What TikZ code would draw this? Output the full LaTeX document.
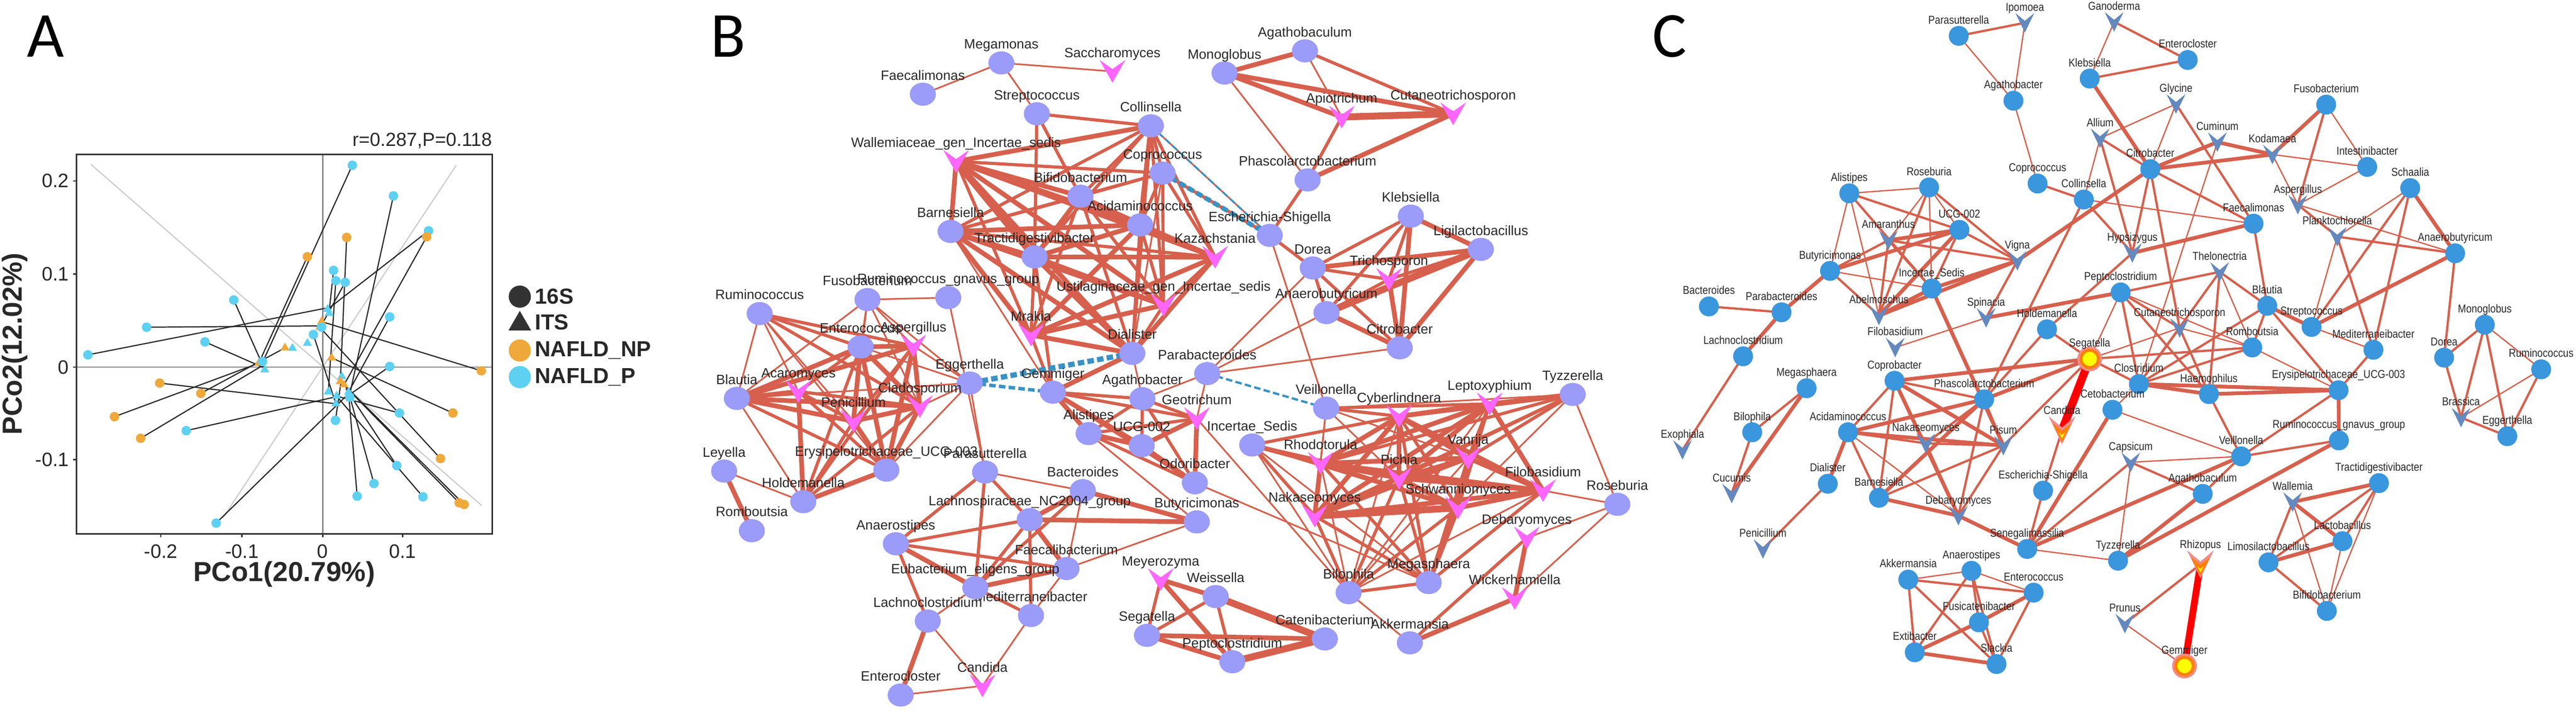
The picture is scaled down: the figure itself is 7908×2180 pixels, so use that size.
\documentclass[tikz,border=0pt]{standalone}
\usepackage{fontspec}
\setmainfont{Liberation Sans}
\newfontfamily\narrowsf[FakeStretch=0.86]{Liberation Sans}
\newfontfamily\panelsf{Carlito}
\usetikzlibrary{shapes.geometric,backgrounds}
\definecolor{edgered}{RGB}{214,96,77}
\definecolor{negblue}{RGB}{58,146,196}
\definecolor{bcirc}{RGB}{155,155,250}
\definecolor{bfung}{RGB}{255,102,255}
\definecolor{ccirc}{RGB}{58,150,221}
\definecolor{cfung}{RGB}{100,137,190}
\definecolor{ringpink}{RGB}{242,140,140}
\definecolor{ringorange}{RGB}{255,127,0}
\definecolor{coreyellow}{RGB}{255,255,0}
\definecolor{hubred}{RGB}{255,0,0}
\definecolor{npgold}{RGB}{239,168,58}
\definecolor{pcyan}{RGB}{94,208,242}
\definecolor{labgray}{RGB}{40,40,40}
\definecolor{darkpt}{RGB}{51,51,51}
% chevron (arrow head pointing down) inside a path picture
\newcommand\vchev[4]{\fill[#1] ([shift={(-#2 cm,{(#3+(#4))*1cm})}]path picture bounding box.center) -- ([shift={(0cm,{(0.2*#3+(#4))*1cm})}]path picture bounding box.center) -- ([shift={(#2 cm,{(#3+(#4))*1cm})}]path picture bounding box.center) -- ([shift={(0cm,{((#4)-#3)*1cm})}]path picture bounding box.center) -- cycle;}
\begin{document}
\begin{tikzpicture}[x=0.01cm,y=-0.01cm,label distance=-0.02cm,
  blab/.style={font=\fontsize{11.8}{13}\selectfont,text=labgray,inner sep=0pt,text depth=2.4pt},
  clab/.style={font=\narrowsf\fontsize{10}{12}\selectfont,text=labgray,inner sep=0pt,text depth=2pt},
  bac/.style={ellipse,fill=bcirc,inner sep=0pt,minimum width=0.8cm,minimum height=0.71cm,label={[blab]above:#1}},
  bfun/.style={rectangle,inner sep=0pt,minimum width=0.79cm,minimum height=0.7cm,path picture={\vchev{bfung}{0.395}{0.35}{0}},label={[blab]above:#1}},
  cbac/.style={circle,fill=ccirc,inner sep=0pt,minimum size=0.61cm,label={[clab]above:#1}},
  cfun/.style={rectangle,inner sep=0pt,minimum width=0.58cm,minimum height=0.6cm,path picture={\vchev{cfung}{0.29}{0.3}{0}},label={[clab]above:#1}},
  hubc/.style={circle,inner sep=0pt,minimum size=0.53cm,fill=coreyellow,draw=ringorange,line width=0.09cm,preaction={draw=ringpink,line width=0.23cm},label={[clab]above:#1}},
  hubt/.style={rectangle,inner sep=0pt,minimum width=0.82cm,minimum height=0.86cm,path picture={\vchev{ringpink}{0.41}{0.43}{0}\vchev{ringorange}{0.29}{0.29}{-0.07}\vchev{coreyellow}{0.09}{0.09}{-0.16}},label={[clab]above:#1}},
  bedge/.style={draw=edgered},
  negedge/.style={draw=negblue,dash pattern=on 0.2cm off 0.1cm},
  ptP/.style={circle,fill=pcyan,inner sep=0,minimum size=0.29cm},
  ptNP/.style={circle,fill=npgold,inner sep=0,minimum size=0.29cm},
  triP/.style={regular polygon,regular polygon sides=3,fill=pcyan,inner sep=0,minimum size=0.32cm},
  triNP/.style={regular polygon,regular polygon sides=3,fill=npgold,inner sep=0,minimum size=0.32cm},
  procline/.style={draw=black!85,line width=1pt},
  ticklab/.style={font=\fontsize{17}{19}\selectfont,text=labgray,inner sep=0pt},
  panel/.style={font=\panelsf\fontsize{56}{60}\selectfont,inner sep=0pt}]
\path[use as bounding box] (0,0) rectangle (7908,2180);
\node[panel] at (140,112) {A};
\node[panel] at (2235,112) {B};
\node[panel] at (5125,112) {C};

% ---------------- A: procrustes plot
\begin{scope}[shift={(0,300)},xscale=1.148,yscale=1.02]
\draw[black!20,line width=1pt] (243,200) -- (1288,1226);
\draw[black!20,line width=1pt] (595,1265) -- (1220,203);
\draw[black!45,line width=1pt] (863,170) -- (863,1312);
\draw[black!45,line width=1pt] (205,810) -- (1316,810);
\foreach \ax/\ay/\bx/\by in {942/203/702/796, 1052/295/935/893, 1146/400/876/636, 1141/418/920/863, 927/420/910/853, 822/478/692/798, 892/519/880/645, 898/550/878/884, 923/555/860/683, 625/608/708/818, 1042/659/932/885, 392/690/860/686, 548/734/706/812, 838/712/898/920, 235/773/870/633, 1042/808/932/895, 1068/948/900/897, 897/970/914/838, 498/1001/895/900, 1061/1106/925/875, 1000/1160/937/905, 955/1198/932/885, 1131/1200/900/897, 578/1279/932/890, 1287/821/860/673, 427/858/898/920, 537/889/762/752, 306/959/700/795, 376/1024/710/800, 1211/948/887/782, 1178/1085/855/690, 1228/1218/910/853, 1241/1223/920/863}
  \draw[procline] (\ax,\ay) -- (\bx,\by);
\foreach \px/\py in {876/636, 880/648, 782/753, 822/738, 708/818, 914/838, 878/884, 900/897, 932/885, 937/905, 898/920, 935/893}
  \node[triP] at (\px,\py) {};
\foreach \px/\py in {860/673, 855/690, 762/752, 887/782, 910/853, 920/863, 692/798}
  \node[triNP] at (\px,\py) {};
\foreach \px/\py in {942/203, 1052/295, 1146/400, 892/519, 898/550, 923/555, 625/608, 1042/659, 392/690, 548/734, 838/712, 860/690, 235/773, 702/793, 1042/808, 1068/948, 897/970, 498/1001, 1061/1106, 1000/1160, 955/1198, 1131/1200, 578/1279, 935/900}
  \node[ptP] at (\px,\py) {};
\foreach \px/\py in {927/420, 822/478, 1141/418, 1287/821, 427/858, 537/889, 306/959, 376/1024, 1211/948, 1178/1085, 1228/1218, 1241/1223}
  \node[ptNP] at (\px,\py) {};
\draw[darkpt,line width=1.4pt] (205,170) rectangle (1316,1312);
\foreach \v/\t in {0.2/250, 0.1/530, 0/810, -0.1/1088} {
  \draw[darkpt,line width=1.2pt] (195,\t) -- (205,\t);
  \node[ticklab,anchor=east] at (185,\t) {\v};}
\foreach \v/\t in {-0.2/430, -0.1/647, 0/863, 0.1/1077} {
  \draw[darkpt,line width=1.2pt] (\t,1312) -- (\t,1322);
  \node[ticklab,anchor=north] at (\t,1343) {\v};}
\node[font=\fontsize{16.5}{18}\selectfont,text=labgray,anchor=east,inner sep=0] at (1316,130) {r=0.287,P=0.118};
\node[font=\bfseries\fontsize{24}{28}\selectfont,text=labgray] at (760,1432) {PCo1(20.79\%)};
\node[font=\bfseries\fontsize{24}{28}\selectfont,text=labgray,rotate=90] at (40,740) {PCo2(12.02\%)};
\node[circle,fill=darkpt,inner sep=0,minimum size=0.68cm] at (1390,598) {};
\node[regular polygon,regular polygon sides=3,fill=darkpt,inner sep=0,minimum size=0.8cm] at (1390,680) {};
\node[circle,fill=npgold,inner sep=0,minimum size=0.68cm] at (1390,760) {};
\node[circle,fill=pcyan,inner sep=0,minimum size=0.68cm] at (1390,840) {};
\foreach \t/\yy in {16S/598, ITS/675, NAFLD\_NP/760, NAFLD\_P/840}
  \node[font=\bfseries\fontsize{19}{21}\selectfont,text=labgray,anchor=west,inner sep=0] at (1430,\yy) {\t};
\end{scope}

% ---------------- B: network
\node[bac=Megamonas] (bMega) at (3074,193) {};
\node[bac=Faecalimonas] (bFaeca) at (2833,289) {};
\node[bfun=Saccharomyces] (bSacch) at (3415,219) {};
\node[bac=Monoglobus] (bMono) at (3759,224) {};
\node[bac=Agathobaculum] (bAgatb) at (4006,156) {};
\node[bfun=Apiotrichum] (bApio) at (4119,359) {};
\node[bfun=Cutaneotrichosporon] (bCuta) at (4461,349) {};
\node[bac=Streptococcus] (bStrep) at (3183,349) {};
\node[bac=Collinsella] (bColl) at (3533,386) {};
\node[bfun=Wallemiaceae\_gen\_Incertae\_sedis] (bWall) at (2935,495) {};
\node[bac=Coprococcus] (bCopro) at (3569,531) {};
\node[bac=Phascolarctobacterium] (bPhas) at (4014,552) {};
\node[bac=Bifidobacterium] (bBifi) at (3317,602) {};
\node[bac=Klebsiella] (bKleb) at (4331,663) {};
\node[bac=Barnesiella] (bBarn) at (2918,710) {};
\node[bac=Acidaminococcus] (bAcid) at (3500,690) {};
\node[bac=Escherichia-Shigella] (bEsch) at (3898,722) {};
\node[bac=Ligilactobacillus] (bLigi) at (4546,765) {};
\node[bac=Tractidigestivibacter] (bTract) at (3176,788) {};
\node[bfun=Kazachstania] (bKaz) at (3730,789) {};
\node[bac=Dorea] (bDorea) at (4030,822) {};
\node[bfun=Trichosporon] (bTrich) at (4264,857) {};
\node[bac=Fusobacterium] (bFuso) at (2663,919) {};
\node[bac=Ruminococcus\_gnavus\_group] (bGnav) at (2911,913) {};
\node[bfun=Ustilaginaceae\_gen\_Incertae\_sedis] (bUstil) at (3572,936) {};
\node[bac=Anaerobutyricum] (bAnaerob) at (4072,959) {};
\node[bac=Ruminococcus] (bRumi) at (2332,962) {};
\node[bfun=Mrakia] (bMrak) at (3165,1028) {};
\node[bac=Enterococcus] (bEntc) at (2642,1064) {};
\node[bfun=Aspergillus] (bAsper) at (2804,1061) {};
\node[bac=Citrobacter] (bCitro) at (4297,1067) {};
\node[bac=Dialister] (bDial) at (3476,1084) {};
\node[bac=Parabacteroides] (bPara) at (3706,1146) {};
\node[bac=Eggerthella] (bEgg) at (2977,1175) {};
\node[bfun=Acaromyces] (bAcaro) at (2451,1201) {};
\node[bac=Gemmiger] (bGemm) at (3232,1203) {};
\node[bac=Blautia] (bBlau) at (2262,1222) {};
\node[bac=Agathobacter] (bAgtr) at (3507,1223) {};
\node[bfun=Cladosporium] (bClad) at (2824,1247) {};
\node[bac=Veillonella] (bVeil) at (4071,1252) {};
\node[bfun=Cyberlindnera] (bCyber) at (4295,1277) {};
\node[bfun=Leptoxyphium] (bLepto) at (4573,1239) {};
\node[bac=Tyzzerella] (bTyzz) at (4828,1210) {};
\node[bfun=Geotrichum] (bGeo) at (3674,1284) {};
\node[bfun=Penicillium] (bPeni) at (2620,1292) {};
\node[bac=Alistipes] (bAlis) at (3342,1330) {};
\node[bac=UCG-002] (bUCG) at (3505,1367) {};
\node[bac=Incertae\_Sedis] (bIncS) at (3844,1365) {};
\node[bfun=Rhodotorula] (bRhodo) at (4054,1421) {};
\node[bfun=Vanrija] (bVanr) at (4507,1405) {};
\node[bac=Erysipelotrichaceae\_UCG-003] (bErys) at (2721,1442) {};
\node[bac=Leyella] (bLeye) at (2223,1445) {};
\node[bac=Parasutterella] (bParas) at (3024,1448) {};
\node[bfun=Pichia] (bPich) at (4295,1467) {};
\node[bac=Odoribacter] (bOdor) at (3668,1481) {};
\node[bac=Bacteroides] (bBact) at (3324,1505) {};
\node[bfun=Filobasidium] (bFilo) at (4737,1505) {};
\node[bac=Holdemanella] (bHold) at (2466,1539) {};
\node[bac=Roseburia] (bRose) at (4965,1547) {};
\node[bfun=Schwanniomyces] (bSchw) at (4476,1558) {};
\node[bfun=Nakaseomyces] (bNaka) at (4036,1583) {};
\node[bac=Lachnospiraceae\_NC2004\_group] (bLach) at (3161,1594) {};
\node[bac=Butyricimonas] (bButy) at (3674,1601) {};
\node[bac=Romboutsia] (bRomb) at (2308,1628) {};
\node[bfun=Debaryomyces] (bDeba) at (4687,1650) {};
\node[bac=Anaerostipes] (bAnst) at (2750,1668) {};
\node[bac=Faecalibacterium] (bFaecb) at (3274,1744) {};
\node[bfun=Meyerozyma] (bMeye) at (3563,1778) {};
\node[bac=Megasphaera] (bMegas) at (4386,1787) {};
\node[bac=Mediterraneibacter] (bMedi) at (3165,1888) {};
\node[bac=Eubacterium\_eligens\_group] (bEubac) at (2994,1803) {};
\node[bac=Bilophila] (bBilo) at (4140,1818) {};
\node[bac=Weissella] (bWeis) at (3732,1830) {};
\node[bfun=Wickerhamiella] (bWick) at (4650,1836) {};
\node[bac=Lachnoclostridium] (bLaccl) at (2848,1905) {};
\node[bac=Segatella] (bSega) at (3521,1949) {};
\node[bac=Catenibacterium] (bCaten) at (4067,1960) {};
\node[bac=Akkermansia] (bAkk) at (4328,1972) {};
\node[bac=Peptoclostridium] (bPepto) at (3783,2030) {};
\node[bfun=Candida] (bCand) at (3016,2104) {};
\node[bac=Enterocloster] (bEntcl) at (2765,2132) {};

% ---------------- C: network
\node[cbac=Parasutterella] (cParas) at (6013,110) {};
\node[cfun=Ipomoea] (cIpom) at (6216,70) {};
\node[cfun=Ganoderma] (cGano) at (6490,67) {};
\node[cbac=Enterocloster] (cEntcl) at (6716,184) {};
\node[cbac=Klebsiella] (cKleb) at (6415,241) {};
\node[cbac=Agathobacter] (cAgtr) at (6181,309) {};
\node[cfun=Glycine] (cGlyc) at (6680,319) {};
\node[cbac=Fusobacterium] (cFuso) at (7141,321) {};
\node[cfun=Allium] (cAlli) at (6447,424) {};
\node[cfun=Cuminum] (cCumi) at (6807,436) {};
\node[cfun=Kodamaea] (cKoda) at (6976,474) {};
\node[cbac=Intestinibacter] (cIntes) at (7267,512) {};
\node[cbac=Citrobacter] (cCitro) at (6601,519) {};
\node[cbac=Coprococcus] (cCopro) at (6255,563) {};
\node[cbac=Roseburia] (cRose) at (5922,575) {};
\node[cbac=Schaalia] (cSchaa) at (7399,577) {};
\node[cbac=Alistipes] (cAlis) at (5677,593) {};
\node[cbac=Collinsella] (cColl) at (6397,612) {};
\node[cfun=Aspergillus] (cAsper) at (7054,628) {};
\node[cbac=Faecalimonas] (cFaeca) at (6918,686) {};
\node[cbac=UCG-002] (cUCG) at (6015,705) {};
\node[cfun=Planktochlorella] (cPlank) at (7175,726) {};
\node[cfun=Amaranthus] (cAmar) at (5797,737) {};
\node[cfun=Hypsizygus] (cHyps) at (6546,776) {};
\node[cbac=Anaerobutyricum] (cAnaerob) at (7537,777) {};
\node[cfun=Vigna] (cVigna) at (6193,800) {};
\node[cbac=Butyricimonas] (cButy) at (5618,831) {};
\node[cfun=Thelonectria] (cThel) at (6814,834) {};
\node[cbac=Incertae\_Sedis] (cIncS) at (5930,885) {};
\node[cbac=Peptoclostridium] (cPepto) at (6510,897) {};
\node[cbac=Bacteroides] (cBact) at (5246,940) {};
\node[cbac=Blautia] (cBlau) at (6960,938) {};
\node[cbac=Parabacteroides] (cParab) at (5469,958) {};
\node[cfun=Abelmoschus] (cAbel) at (5768,968) {};
\node[cfun=Spinacia] (cSpin) at (6097,975) {};
\node[cbac=Monoglobus] (cMono) at (7628,996) {};
\node[cbac=Streptococcus] (cStrep) at (7096,1003) {};
\node[cfun=Cutaneotrichosporon] (cCuta) at (6691,1006) {};
\node[cbac=Holdemanella] (cHold) at (6284,1010) {};
\node[cfun=Filobasidium] (cFilo) at (5818,1066) {};
\node[cbac=Romboutsia] (cRomb) at (6914,1066) {};
\node[cbac=Mediterraneibacter] (cMedi) at (7286,1073) {};
\node[cbac=Lachnoclostridium] (cLaccl) at (5351,1093) {};
\node[cbac=Dorea] (cDorea) at (7503,1097) {};
\node[cbac=Ruminococcus] (cRumi) at (7801,1133) {};
\node[cbac=Coprobacter] (cCoprb) at (5816,1168) {};
\node[cbac=Clostridium] (cClost) at (6566,1178) {};
\node[cbac=Megasphaera] (cMegas) at (5546,1191) {};
\node[cbac=Erysipelotrichaceae\_UCG-003] (cErys) at (7179,1197) {};
\node[cbac=Haemophilus] (cHaem) at (6781,1209) {};
\node[cbac=Phascolarctobacterium] (cPhas) at (6091,1225) {};
\node[cbac=Cetobacterium] (cCeto) at (6485,1257) {};
\node[cfun=Brassica] (cBrass) at (7555,1281) {};
\node[cbac=Bilophila] (cBilo) at (5379,1326) {};
\node[cbac=Acidaminococcus] (cAcid) at (5673,1326) {};
\node[cbac=Eggerthella] (cEgg) at (7697,1338) {};
\node[cbac=Ruminococcus\_gnavus\_group] (cGnav) at (7180,1351) {};
\node[cfun=Nakaseomyces] (cNaka) at (5912,1360) {};
\node[cfun=Pisum] (cPisum) at (6150,1367) {};
\node[cfun=Exophiala] (cExo) at (5165,1380) {};
\node[cbac=Veillonella] (cVeil) at (6880,1400) {};
\node[cfun=Capsicum] (cCaps) at (6541,1418) {};
\node[cbac=Tractidigestivibacter] (cTract) at (7303,1482) {};
\node[cbac=Dialister] (cDial) at (5611,1484) {};
\node[cbac=Escherichia-Shigella] (cEsch) at (6272,1505) {};
\node[cfun=Cucumis] (cCucu) at (5316,1514) {};
\node[cbac=Agathobaculum] (cAgatb) at (6762,1515) {};
\node[cbac=Barnesiella] (cBarn) at (5768,1527) {};
\node[cfun=Wallemia] (cWalle) at (7038,1540) {};
\node[cfun=Debaryomyces] (cDeba) at (6012,1582) {};
\node[cbac=Lactobacillus] (cLacto) at (7191,1660) {};
\node[cfun=Penicillium] (cPeni) at (5412,1684) {};
\node[cbac=Senegalimassilia] (cSene) at (6223,1684) {};
\node[cbac=Tyzzerella] (cTyzz) at (6502,1720) {};
\node[cbac=Limosilactobacillus] (cLimo) at (6964,1725) {};
\node[cbac=Anaerostipes] (cAnst) at (6052,1751) {};
\node[cbac=Akkermansia] (cAkk) at (5858,1778) {};
\node[cbac=Enterococcus] (cEntc) at (6243,1818) {};
\node[cbac=Bifidobacterium] (cBifi) at (7143,1874) {};
\node[cbac=Fusicatenibacter] (cFusi) at (6075,1909) {};
\node[cfun=Prunus] (cPrun) at (6523,1913) {};
\node[cbac=Extibacter] (cExti) at (5878,2001) {};
\node[cbac=Slackia] (cSlack) at (6129,2037) {};
\node[hubc=Segatella] (cSega) at (6415,1101) {};
\node[hubt=Candida] (cCand) at (6330,1320) {};
\node[hubt=Rhizopus] (cRhiz) at (6755,1731) {};
\node[hubc=Gemmiger] (cGemm) at (6706,2043) {};

\begin{scope}[on background layer]
% B edges
\foreach \u/\v/\w in {bFaeca/bMega/1.2, bMega/bSacch/1.2, bMega/bStrep/1.2, bStrep/bColl/2.3, bStrep/bTract/2.3, bStrep/bBifi/2.3,
  bMono/bAgatb/3.4, bMono/bApio/3.4, bMono/bCuta/3.4, bMono/bPhas/1.2, bAgatb/bApio/1.2, bAgatb/bCuta/2.3, bApio/bCuta/5, bApio/bPhas/2.3, bCuta/bPhas/3.4, bPhas/bEsch/2.3,
  bWall/bColl/3.4, bWall/bCopro/2.3, bWall/bBarn/3.4, bWall/bBifi/3.4, bWall/bAcid/3.4, bWall/bTract/5, bWall/bKaz/3.4, bWall/bUstil/3.4, bWall/bMrak/2.3, bWall/bDial/3.4,
  bColl/bBifi/2.3, bColl/bAcid/3.4, bColl/bTract/2.3, bColl/bKaz/2.3, bColl/bUstil/2.3, bColl/bDial/2.3, bColl/bBarn/2.3, bColl/bCopro/2.3,
  bCopro/bBifi/2.3, bCopro/bAcid/2.3, bCopro/bKaz/2.3, bCopro/bUstil/2.3, bCopro/bDial/1.2, bCopro/bBarn/2.3,
  bBifi/bBarn/2.3, bBifi/bAcid/3.4, bBifi/bTract/3.4, bBifi/bKaz/2.3, bBifi/bUstil/2.3, bBifi/bMrak/2.3, bBifi/bDial/2.3,
  bBarn/bAcid/3.4, bBarn/bTract/3.4, bBarn/bKaz/2.3, bBarn/bUstil/3.4, bBarn/bMrak/3.4, bBarn/bDial/3.4,
  bAcid/bTract/3.4, bAcid/bKaz/3.4, bAcid/bUstil/2.3, bAcid/bMrak/3.4, bAcid/bDial/2.3,
  bTract/bKaz/3.4, bTract/bUstil/3.4, bTract/bMrak/2.3, bTract/bDial/3.4, bKaz/bUstil/2.3, bKaz/bMrak/3.4, bKaz/bDial/3.4, bUstil/bMrak/3.4, bUstil/bDial/2.3, bMrak/bDial/3.4,
  bColl/bEsch/1.2, bCopro/bEsch/2.3, bEsch/bDorea/2.3, bEsch/bVeil/1.2,
  bKleb/bLigi/3.4, bKleb/bDorea/2.3, bKleb/bTrich/2.3, bKleb/bAnaerob/2.3, bKleb/bCitro/3.4, bLigi/bDorea/3.4, bLigi/bAnaerob/5, bLigi/bCitro/3.4, bLigi/bTrich/2.3,
  bDorea/bTrich/2.3, bDorea/bAnaerob/2.3, bDorea/bCitro/2.3, bTrich/bAnaerob/2.3, bTrich/bCitro/3.4, bAnaerob/bCitro/3.4, bDorea/bPara/1.2, bAnaerob/bPara/1.2, bCitro/bPara/1.2,
  bFuso/bGnav/1.2, bRumi/bBlau/1.2, bRumi/bEntc/2.3, bRumi/bAsper/2.3, bRumi/bAcaro/1.2, bRumi/bClad/2.3, bRumi/bPeni/1.2, bRumi/bErys/1.2,
  bFuso/bEntc/1.2, bFuso/bAsper/1.2, bFuso/bBlau/1.2, bFuso/bClad/1.2, bFuso/bPeni/1.2, bFuso/bEgg/1.2,
  bEntc/bAsper/3.4, bEntc/bBlau/3.4, bEntc/bAcaro/2.3, bEntc/bClad/3.4, bEntc/bPeni/3.4, bEntc/bErys/3.4, bEntc/bHold/2.3, bEntc/bEgg/1.2,
  bAsper/bBlau/3.4, bAsper/bClad/3.4, bAsper/bPeni/2.3, bAsper/bErys/3.4, bAsper/bEgg/1.2, bAsper/bHold/2.3,
  bBlau/bAcaro/3.4, bBlau/bClad/3.4, bBlau/bPeni/3.4, bBlau/bErys/2.3, bBlau/bHold/1.2, bBlau/bEgg/1.2,
  bAcaro/bPeni/2.3, bAcaro/bClad/2.3, bAcaro/bHold/3.4, bAcaro/bErys/2.3, bClad/bPeni/3.4, bClad/bErys/3.4, bClad/bHold/2.3, bClad/bEgg/1.2,
  bPeni/bErys/3.4, bPeni/bHold/2.3, bEgg/bErys/1.2, bErys/bHold/3.4, bLeye/bHold/1.2, bLeye/bRomb/3.4, bGnav/bParas/1.2, bEgg/bParas/1.2,
  bDial/bGemm/3.4, bDial/bAgtr/1.2, bGemm/bAlis/3.4, bGemm/bUCG/3.4, bGemm/bAgtr/2.3, bGemm/bGeo/2.3, bGemm/bOdor/2.3, bGemm/bMrak/2.3, bGemm/bTract/2.3, bGemm/bBarn/1.2,
  bAlis/bUCG/3.4, bAlis/bAgtr/2.3, bAlis/bGeo/2.3, bAlis/bOdor/2.3, bAlis/bButy/1.2, bUCG/bAgtr/2.3, bUCG/bGeo/3.4, bUCG/bOdor/3.4,
  bAgtr/bGeo/2.3, bAgtr/bPara/1.2, bAgtr/bOdor/2.3, bGeo/bPara/1.2, bGeo/bOdor/3.4, bGeo/bBilo/1.2, bOdor/bMegas/1.2,
  bParas/bBact/1.2, bParas/bLach/2.3, bParas/bAnst/2.3, bParas/bEubac/2.3, bBact/bLach/3.4, bBact/bButy/3.4, bBact/bFaecb/1.2, bBact/bEubac/2.3,
  bLach/bButy/3.4, bLach/bAnst/2.3, bLach/bFaecb/3.4, bLach/bMedi/2.3, bLach/bEubac/2.3, bButy/bFaecb/1.2, bAnst/bFaecb/2.3, bAnst/bEubac/3.4, bAnst/bLaccl/2.3,
  bEubac/bFaecb/3.4, bEubac/bMedi/2.3, bFaecb/bMedi/1.2, bLaccl/bEubac/1.2, bLaccl/bEntcl/3.4, bLaccl/bCand/1.2, bMedi/bCand/1.2, bEntcl/bCand/1.2,
  bMeye/bWeis/3.4, bMeye/bSega/2.3, bMeye/bPepto/3.4, bWeis/bSega/2.3, bWeis/bPepto/2.3, bWeis/bCaten/5, bSega/bPepto/3.4, bSega/bCaten/3.4, bPepto/bCaten/5,
  bVeil/bCyber/2.3, bVeil/bLepto/2.3, bVeil/bTyzz/1.2, bVeil/bRhodo/1.2, bVeil/bPich/1.2, bVeil/bVanr/1.2, bVeil/bNaka/1.2,
  bCyber/bLepto/3.4, bCyber/bTyzz/3.4, bCyber/bIncS/2.3, bCyber/bRhodo/3.4, bCyber/bVanr/3.4, bCyber/bPich/3.4, bCyber/bFilo/3.4, bCyber/bNaka/3.4, bCyber/bSchw/2.3, bCyber/bBilo/1.2, bCyber/bMegas/2.3,
  bLepto/bTyzz/3.4, bLepto/bRhodo/3.4, bLepto/bVanr/2.3, bLepto/bPich/3.4, bLepto/bFilo/3.4, bLepto/bNaka/3.4, bLepto/bSchw/2.3, bLepto/bBilo/1.2, bLepto/bMegas/2.3,
  bTyzz/bRhodo/2.3, bTyzz/bVanr/2.3, bTyzz/bPich/2.3, bTyzz/bNaka/2.3, bTyzz/bSchw/1.2, bTyzz/bRose/1.2,
  bIncS/bRhodo/3.4, bIncS/bNaka/2.3, bIncS/bPich/2.3, bIncS/bBilo/1.2, bIncS/bMegas/1.2, bIncS/bSchw/1.2,
  bRhodo/bVanr/3.4, bRhodo/bPich/3.4, bRhodo/bFilo/3.4, bRhodo/bNaka/3.4, bRhodo/bSchw/3.4, bRhodo/bBilo/1.2, bRhodo/bMegas/2.3,
  bVanr/bPich/3.4, bVanr/bFilo/3.4, bVanr/bNaka/3.4, bVanr/bSchw/3.4, bVanr/bMegas/2.3, bVanr/bBilo/1.2,
  bPich/bFilo/3.4, bPich/bNaka/3.4, bPich/bSchw/3.4, bPich/bBilo/2.3, bPich/bMegas/2.3, bFilo/bNaka/3.4, bFilo/bSchw/3.4, bFilo/bRose/1.2, bFilo/bMegas/2.3, bFilo/bBilo/1.2,
  bNaka/bSchw/5, bNaka/bBilo/2.3, bNaka/bMegas/2.3, bSchw/bMegas/3.4, bSchw/bBilo/2.3, bBilo/bMegas/2.3, bBilo/bAkk/1.2,
  bDeba/bWick/3.4, bDeba/bRose/1.2, bDeba/bAkk/2.3, bWick/bAkk/3.4, bWick/bRose/1.2}
  \draw[bedge,line width=\w*1.2pt] (\u.center) -- (\v.center);
\draw[negedge,line width=1.6pt] (bColl.center) -- (bEsch.center);
\draw[negedge,line width=4pt] (bCopro.center) -- (bEsch.center);
\draw[negedge,line width=4.6pt] (bDial.center) -- (bEgg.center);
\draw[negedge,line width=3pt] (bEgg.center) -- (bGemm.center);
\draw[negedge,line width=2pt] (bPara.center) -- (bVeil.center);
% C edges
\foreach \u/\v/\w in {cParas/cIpom/1.6, cParas/cAgtr/0.9, cIpom/cAgtr/0.9, cAgtr/cCopro/0.9, cGano/cKleb/0.9, cGano/cEntcl/1.6, cKleb/cEntcl/1.6, cKleb/cCitro/2.6,
  cAlli/cCitro/1.6, cAlli/cColl/0.9, cAlli/cHyps/1.6, cAlli/cGlyc/0.9, cCopro/cColl/1.6, cColl/cHyps/1.6, cColl/cPhas/1.6, cColl/cFaeca/0.9,
  cVigna/cCitro/2.6, cVigna/cUCG/1.6, cVigna/cRose/1.6, cVigna/cAmar/1.6, cVigna/cIncS/2.6, cVigna/cAbel/2.6, cVigna/cSpin/1.6,
  cHyps/cFaeca/2.6, cHyps/cHold/1.6, cGlyc/cCitro/0.9, cGlyc/cFaeca/1.6, cCitro/cCumi/2.6, cCitro/cKoda/2.6, cCitro/cFaeca/1.6, cCitro/cCuta/1.6, cCitro/cHyps/1.6,
  cCumi/cKoda/2.6, cCumi/cClost/0.9, cKoda/cFuso/2.6, cKoda/cIntes/0.9, cKoda/cAsper/0.9, cFuso/cAsper/1.6, cFuso/cIntes/0.9, cIntes/cAsper/0.9,
  cAsper/cPlank/1.6, cAsper/cAnaerob/0.9, cSchaa/cAnaerob/2.6, cSchaa/cPlank/0.9, cSchaa/cStrep/1.6, cSchaa/cMedi/1.6, cPlank/cAnaerob/1.6, cPlank/cStrep/0.9, cPlank/cMedi/1.6,
  cAnaerob/cStrep/2.6, cAnaerob/cDorea/1.6, cFaeca/cBlau/1.6, cThel/cBlau/1.6, cThel/cRomb/0.9, cThel/cHaem/1.6, cThel/cPepto/1.6, cThel/cClost/1.6,
  cBlau/cStrep/2.6, cBlau/cRomb/1.6, cBlau/cClost/1.6, cBlau/cErys/1.6, cStrep/cMedi/0.9,
  cMono/cDorea/1.6, cMono/cRumi/0.9, cMono/cBrass/1.6, cMono/cEgg/1.6, cDorea/cBrass/1.6, cRumi/cBrass/0.9, cRumi/cEgg/1.6, cBrass/cEgg/1.6,
  cAlis/cRose/0.9, cAlis/cButy/0.9, cAlis/cUCG/1.6, cAlis/cAbel/0.9, cAlis/cIncS/1.6, cRose/cAmar/0.9, cRose/cAbel/1.6, cRose/cIncS/0.9, cRose/cUCG/0.9,
  cUCG/cAmar/2.6, cUCG/cButy/2.6, cUCG/cAbel/2.6, cUCG/cIncS/1.6, cAmar/cButy/1.6, cAmar/cAbel/1.6, cAmar/cIncS/1.6, cButy/cParab/2.6, cButy/cIncS/0.9, cButy/cAbel/1.6,
  cParab/cBact/1.6, cParab/cLaccl/2.6, cLaccl/cExo/1.6, cIncS/cAbel/2.6, cIncS/cPisum/2.6, cSpin/cPepto/2.6, cSpin/cFilo/0.9, cHold/cSega/1.6, cHold/cPhas/1.6,
  cPepto/cSega/0.9, cPepto/cClost/1.6, cPepto/cHaem/1.6, cPepto/cRomb/0.9, cPepto/cCuta/1.6, cSega/cRomb/1.6, cSega/cClost/1.6, cSega/cCoprb/2.6, cSega/cPhas/2.6, cSega/cPisum/1.6, cSega/cCuta/0.9,
  cClost/cHaem/2.6, cClost/cErys/2.6, cClost/cRomb/1.6, cClost/cCuta/1.6, cHaem/cErys/2.6, cHaem/cVeil/1.6, cHaem/cCuta/1.6, cRomb/cErys/0.9, cRomb/cCuta/0.9,
  cCeto/cVeil/0.9, cCeto/cSene/2.6, cCeto/cClost/0.9, cErys/cGnav/2.6, cErys/cVeil/1.6, cErys/cMedi/1.6, cGnav/cVeil/1.6, cGnav/cTyzz/2.6,
  cVeil/cAgatb/1.6, cVeil/cCaps/0.9, cAgatb/cCaps/1.6, cAgatb/cTyzz/2.6, cSene/cVeil/2.6,
  cMegas/cBilo/1.6, cMegas/cCucu/2.6, cBilo/cCucu/1.6, cDial/cAcid/2.6, cDial/cPeni/1.6,
  cCoprb/cPhas/1.6, cCoprb/cAcid/1.6, cCoprb/cBarn/1.6, cCoprb/cDeba/2.6, cCoprb/cPisum/2.6, cAcid/cPhas/2.6, cAcid/cNaka/1.6, cAcid/cPisum/2.6, cAcid/cBarn/1.6, cAcid/cDeba/0.9,
  cPhas/cBarn/2.6, cPhas/cPisum/1.6, cPhas/cDeba/1.6, cPhas/cNaka/1.6, cNaka/cDeba/1.6, cNaka/cPisum/1.6, cBarn/cPisum/1.6, cBarn/cDeba/2.6, cDeba/cSene/2.6, cPisum/cDeba/1.6,
  cCand/cEsch/1.6, cEsch/cSene/1.6, cSene/cCaps/1.6, cSene/cTyzz/0.9, cTyzz/cCaps/0.9, cPrun/cRhiz/1.6, cPrun/cGemm/0.9,
  cAkk/cAnst/0.9, cAkk/cEntc/1.6, cAkk/cExti/1.6, cAkk/cSlack/1.6, cAnst/cEntc/0.9, cAnst/cFusi/1.6, cAnst/cExti/1.6, cAnst/cSlack/1.6,
  cEntc/cFusi/2.6, cEntc/cSlack/1.6, cFusi/cExti/2.6, cFusi/cSlack/1.6, cExti/cSlack/2.6,
  cWalle/cTract/2.6, cWalle/cLacto/2.6, cWalle/cLimo/1.6, cWalle/cBifi/0.9, cTract/cLacto/1.6, cTract/cLimo/1.6, cTract/cBifi/0.9, cLacto/cLimo/2.6, cLacto/cBifi/0.9, cLimo/cBifi/1.6}
  \draw[bedge,line width=\w*1.25pt] (\u.center) -- (\v.center);
\draw[draw=hubred,line width=0.25cm] (cSega.center) -- (cCand.center);
\draw[draw=hubred,line width=0.21cm] (cRhiz.center) -- (cGemm.center);
\end{scope}
\end{tikzpicture}
\end{document}
